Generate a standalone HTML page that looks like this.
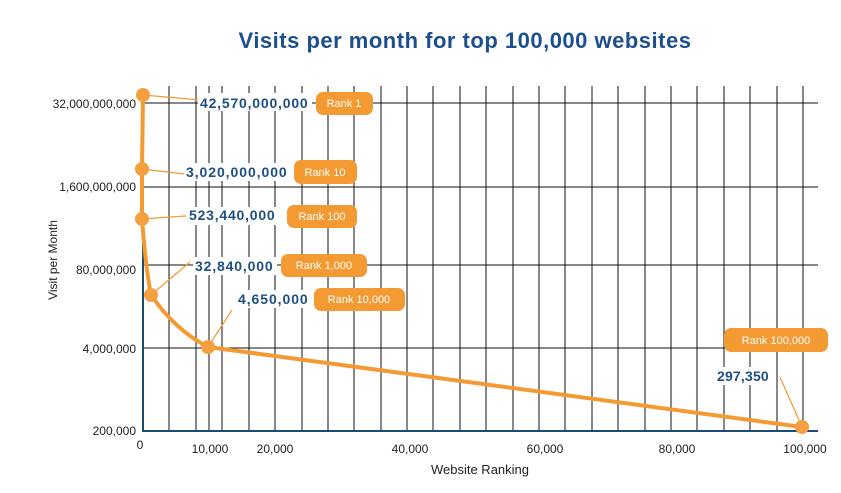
<!DOCTYPE html>
<html><head><meta charset="utf-8"><style>
body{margin:0;background:#fff;}
svg{display:block;font-family:"Liberation Sans",sans-serif;}
.v{font-weight:bold;font-size:14px;fill:#1d4f82;letter-spacing:0.3px;}
.p{font-size:11px;fill:#fff;}
.t{font-size:12px;fill:#222;}
</style></head><body>
<svg width="841" height="493" viewBox="0 0 841 493">
<text x="465" y="48" text-anchor="middle" font-weight="bold" font-size="22" fill="#1d4f8c" letter-spacing="0.5">Visits per month for top 100,000 websites</text>
<g stroke="#111" stroke-width="1">
<line x1="169" y1="86" x2="169" y2="431"/><line x1="196" y1="86" x2="196" y2="431"/><line x1="209" y1="86" x2="209" y2="431"/><line x1="222" y1="86" x2="222" y2="431"/><line x1="249" y1="86" x2="249" y2="431"/><line x1="275" y1="86" x2="275" y2="431"/><line x1="302" y1="86" x2="302" y2="431"/><line x1="328" y1="86" x2="328" y2="431"/><line x1="354" y1="86" x2="354" y2="431"/><line x1="381" y1="86" x2="381" y2="431"/><line x1="407" y1="86" x2="407" y2="431"/><line x1="433" y1="86" x2="433" y2="431"/><line x1="460" y1="86" x2="460" y2="431"/><line x1="486" y1="86" x2="486" y2="431"/><line x1="513" y1="86" x2="513" y2="431"/><line x1="539" y1="86" x2="539" y2="431"/><line x1="565" y1="86" x2="565" y2="431"/><line x1="592" y1="86" x2="592" y2="431"/><line x1="618" y1="86" x2="618" y2="431"/><line x1="645" y1="86" x2="645" y2="431"/><line x1="671" y1="86" x2="671" y2="431"/><line x1="697" y1="86" x2="697" y2="431"/><line x1="724" y1="86" x2="724" y2="431"/><line x1="750" y1="86" x2="750" y2="431"/><line x1="777" y1="86" x2="777" y2="431"/><line x1="803" y1="86" x2="803" y2="431"/>
<line x1="143" y1="103" x2="818" y2="103"/><line x1="143" y1="187" x2="818" y2="187"/><line x1="143" y1="265" x2="818" y2="265"/><line x1="143" y1="348" x2="818" y2="348"/>
</g>
<line x1="143" y1="90" x2="143" y2="432" stroke="#1a4a78" stroke-width="2"/>
<line x1="142" y1="431" x2="818" y2="431" stroke="#1a4a78" stroke-width="2"/>
<g class="t" text-anchor="end">
<text x="136" y="108">32,000,000,000</text><text x="136" y="191">1,600,000,000</text><text x="136" y="274">80,000,000</text><text x="136" y="353">4,000,000</text><text x="136" y="435">200,000</text>
</g>
<g class="t" text-anchor="middle">
<text x="140" y="449">0</text><text x="210" y="453">10,000</text><text x="275" y="453">20,000</text><text x="410" y="453">40,000</text><text x="545" y="453">60,000</text><text x="677" y="453">80,000</text><text x="805" y="453">100,000</text>
<text x="480" y="474" font-size="13">Website Ranking</text>
</g>
<text transform="translate(57,260) rotate(-90)" text-anchor="middle" class="t" font-size="13">Visit per Month</text>
<g stroke="#f39a33" stroke-width="1.2">
<line x1="143" y1="95" x2="200" y2="100"/><line x1="141" y1="169" x2="185" y2="174"/><line x1="141" y1="219" x2="186" y2="216"/><line x1="151" y1="295" x2="190" y2="262"/><line x1="208" y1="347" x2="232" y2="310"/><line x1="802" y1="427" x2="780" y2="377"/>
</g>
<path d="M143 95 L142 169 L142 219 Q146 270 151 295 Q175 330 208 347 L802 427" fill="none" stroke="#f39a33" stroke-width="4" stroke-linejoin="round"/>
<g fill="#f5a040"><circle cx="143" cy="95" r="7"/><circle cx="142" cy="169" r="7"/><circle cx="142" cy="219" r="7"/><circle cx="151" cy="295" r="7"/><circle cx="208" cy="347" r="7"/><circle cx="802" cy="427" r="7"/></g>
<g fill="#fff">
<rect x="198" y="93" width="114" height="18"/><rect x="184" y="163" width="106" height="18"/><rect x="187" y="207" width="92" height="18"/><rect x="193" y="257" width="84" height="18"/><rect x="236" y="290" width="76" height="18"/><rect x="715" y="367" width="58" height="18"/>
</g>
<text class="v" x="200" y="108" textLength="108">42,570,000,000</text>
<text class="v" x="186" y="177" textLength="101">3,020,000,000</text>
<text class="v" x="189" y="220" textLength="86">523,440,000</text>
<text class="v" x="195" y="271" textLength="78">32,840,000</text>
<text class="v" x="238" y="304" textLength="70">4,650,000</text>
<text class="v" x="717" y="381" textLength="52">297,350</text>
<g fill="#f39a33">
<rect x="316" y="92" width="57" height="23" rx="7"/><rect x="294" y="160" width="63" height="24" rx="7"/><rect x="287" y="205" width="70" height="23" rx="7"/><rect x="281" y="254" width="86" height="23" rx="7"/><rect x="314" y="288" width="91" height="23" rx="7"/><rect x="724" y="328" width="104" height="24" rx="7"/>
</g>
<g class="p" text-anchor="middle">
<text x="344" y="107">Rank 1</text><text x="325" y="176">Rank 10</text><text x="322" y="220">Rank 100</text><text x="324" y="269">Rank 1,000</text><text x="359" y="303">Rank 10,000</text><text x="776" y="344">Rank 100,000</text>
</g>
</svg>
</body></html>
